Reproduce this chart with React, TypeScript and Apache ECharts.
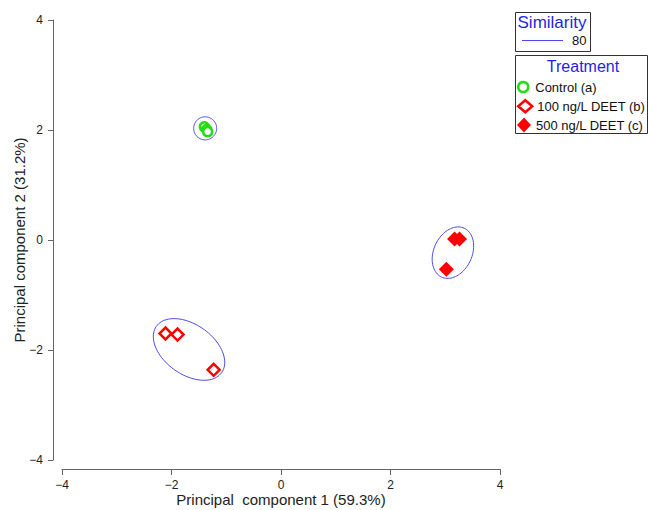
import React, { useEffect, useRef } from 'react';
import * as echarts from 'echarts';

// ---- data ----
const seriesNames = ['Control (a)', '100 ng/L DEET (b)', '500 ng/L DEET (c)'];
const controlPoints = [[-1.40, 2.06], [-1.36, 2.01], [-1.34, 1.97]];
const deet100Points = [[-2.11, -1.70], [-1.89, -1.72], [-1.23, -2.36]];
const deet500Points = [[3.17, 0.02], [3.26, 0.02], [3.02, -0.53]];
// similarity contours: centre x, centre y, semi-axis a, semi-axis b, angle (deg)
const similarityEllipses = [
  [-1.385, 2.03, 0.21, 0.21, 0],
  [-1.68, -1.99, 0.73, 0.455, -35],
  [3.14, -0.23, 0.49, 0.35, 65],
];
const similarityLevel = '80';
const axisMin = -4;
const axisMax = 4;
const axisInterval = 2;
const xAxisName = 'Principal  component 1 (59.3%)';
const yAxisName = 'Principal component 2 (31.2%)';

const FONT = '"Liberation Sans", Arial, sans-serif';
const BLUE_TEXT = '#1f1fe6';
const ELLIPSE_BLUE = '#4a4af0';
const RED = '#ff0000';
const GREEN = '#22dd11';

const fmt = (v: number) => (v < 0 ? '\u2212' + Math.abs(v) : String(v));

export default function App() {
  const ref = useRef<HTMLDivElement>(null);
  useEffect(() => {
    if (!ref.current) return;
    const chart = echarts.init(ref.current, undefined, { renderer: 'svg' });
    const axisCommon = {
      type: 'value' as const,
      min: axisMin,
      max: axisMax,
      interval: axisInterval,
      splitLine: { show: false },
      axisLine: { show: true, onZero: false, lineStyle: { color: '#666', width: 1 } },
      axisTick: { show: true, inside: false, length: 6, lineStyle: { color: '#666' } },
      nameLocation: 'middle' as const,
      nameMoveOverlap: false,
      nameTextStyle: { fontFamily: FONT, fontSize: 15, color: '#222' },
    };
    const legendCommon = {
      orient: 'vertical' as const,
      left: 517,
      padding: 0,
      itemWidth: 14,
      selectedMode: false,
      textStyle: { fontFamily: FONT, fontSize: 13, color: '#111', lineHeight: 14 },
    };
    chart.setOption({
      animation: false,
      backgroundColor: '#fff',
      grid: { left: 62, right: 148, top: 20, bottom: 50, containLabel: false, outerBoundsMode: 'none' },
      xAxis: {
        ...axisCommon,
        position: 'bottom',
        offset: 9,
        name: xAxisName,
        nameGap: 23,
        axisLabel: { formatter: fmt, fontFamily: FONT, fontSize: 12, color: '#222', margin: 10 },
      },
      yAxis: {
        ...axisCommon,
        position: 'left',
        offset: 9,
        name: yAxisName,
        nameGap: 26,
        nameRotate: 90,
        axisTick: { show: true, inside: false, length: 5, lineStyle: { color: '#666' } },
        axisLabel: { formatter: fmt, fontFamily: FONT, fontSize: 12, color: '#222', margin: 10 },
      },
      legend: [
        {
          ...legendCommon,
          data: [seriesNames[0]],
          top: 80,
          itemHeight: 10,
          itemStyle: { borderWidth: 2.5 },
        },
        {
          ...legendCommon,
          data: [seriesNames[1]],
          top: 99,
          itemHeight: 12,
          itemStyle: { borderWidth: 2.5 },
        },
        {
          ...legendCommon,
          data: [seriesNames[2]],
          top: 117.5,
          itemHeight: 15,
        },
      ],
      graphic: [
        {
          type: 'rect',
          shape: { x: 515.5, y: 12.5, width: 75, height: 39 },
          style: { fill: 'none', stroke: '#333', lineWidth: 1 },
        },
        {
          type: 'text',
          x: 552,
          y: 22,
          style: { text: 'Similarity', fontFamily: FONT, fontSize: 17, fill: BLUE_TEXT, align: 'center', verticalAlign: 'middle' },
        },
        {
          type: 'line',
          shape: { x1: 522, y1: 40.5, x2: 563, y2: 40.5 },
          style: { stroke: ELLIPSE_BLUE, lineWidth: 1 },
        },
        {
          type: 'text',
          x: 572,
          y: 40,
          style: { text: similarityLevel, fontFamily: FONT, fontSize: 13, fill: '#111', align: 'left', verticalAlign: 'middle' },
        },
        {
          type: 'rect',
          shape: { x: 515.5, y: 55.5, width: 132, height: 78 },
          style: { fill: 'none', stroke: '#333', lineWidth: 1 },
        },
        {
          type: 'text',
          x: 583,
          y: 66,
          style: { text: 'Treatment', fontFamily: FONT, fontSize: 16, fill: BLUE_TEXT, align: 'center', verticalAlign: 'middle' },
        },
      ],
      series: [
        {
          type: 'custom',
          name: 'Similarity 80',
          silent: true,
          data: similarityEllipses,
          encode: { x: 0, y: 1 },
          renderItem: (params: any, api: any) => {
            const cx = api.value(0);
            const cy = api.value(1);
            const a = api.value(2);
            const b = api.value(3);
            const th = (api.value(4) * Math.PI) / 180;
            const pts: number[][] = [];
            const n = 90;
            for (let i = 0; i < n; i++) {
              const t = (i / n) * Math.PI * 2;
              const x = cx + a * Math.cos(t) * Math.cos(th) - b * Math.sin(t) * Math.sin(th);
              const y = cy + a * Math.cos(t) * Math.sin(th) + b * Math.sin(t) * Math.cos(th);
              pts.push(api.coord([x, y]));
            }
            return {
              type: 'polygon',
              shape: { points: pts },
              style: { fill: 'none', stroke: ELLIPSE_BLUE, lineWidth: 1 },
            };
          },
          z: 1,
        },
        {
          type: 'scatter',
          name: seriesNames[0],
          data: controlPoints,
          symbol: 'circle',
          symbolSize: 9,
          itemStyle: { color: '#ffffff', borderColor: GREEN, borderWidth: 2.5, opacity: 1 },
          z: 3,
        },
        {
          type: 'scatter',
          name: seriesNames[1],
          data: deet100Points,
          symbol: 'diamond',
          symbolSize: 12,
          itemStyle: { color: '#ffffff', borderColor: RED, borderWidth: 2.5, opacity: 1 },
          z: 3,
        },
        {
          type: 'scatter',
          name: seriesNames[2],
          data: deet500Points,
          symbol: 'diamond',
          symbolSize: 15,
          itemStyle: { color: RED, borderColor: RED, borderWidth: 0, opacity: 1 },
          z: 3,
        },
      ],
    });
    return () => chart.dispose();
  }, []);
  return <div ref={ref} style={{ width: 648, height: 510, position: 'absolute', left: 0, top: 0 }} />;
}
